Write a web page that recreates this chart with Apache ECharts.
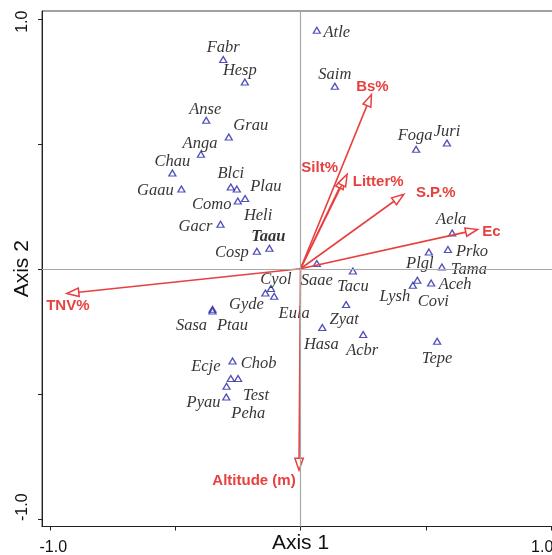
<!DOCTYPE html>
<html><head><meta charset="utf-8">
<script src="https://cdn.jsdelivr.net/npm/echarts@6/dist/echarts.min.js"></script>
<style>html,body{margin:0;padding:0;background:#fff}#c{width:552px;height:555px}</style>
</head><body><div id="c"></div>
<script>
// ---- data ----
const speciesNames = ['Fabr','Hesp','Anse','Grau','Anga','Chau','Gaau','Blci','Plau','Como','Heli','Gacr','Cosp','Taau',
  'Atle','Saim','Foga','Juri','Aela','Prko','Plgl','Tama','Saae','Tacu','Aceh','Lysh','Covi','Zyat','Hasa','Acbr','Tepe',
  'Eula','Cyol','Gyde','Sasa','Ptau','Chob','Ecje','Test','Pyau','Peha'];
const speciesAxis1 = [-0.308,-0.222,-0.376,-0.286,-0.397,-0.511,-0.475,-0.278,-0.254,-0.250,-0.221,-0.319,-0.174,-0.124,
  0.065,0.137,0.461,0.584,0.605,0.588,0.512,0.564,0.065,0.209,0.521,0.448,0.466,0.182,0.087,0.250,0.545,
  -0.105,-0.118,-0.140,-0.351,-0.351,-0.271,-0.278,-0.249,-0.295,-0.296];
const speciesAxis2 = [0.837,0.747,0.594,0.527,0.458,0.383,0.319,0.327,0.319,0.271,0.281,0.178,0.070,0.082,
  0.954,0.730,0.478,0.503,0.143,0.077,0.067,0.007,0.021,-0.009,-0.057,-0.066,-0.046,-0.143,-0.235,-0.263,-0.290,
  -0.110,-0.079,-0.097,-0.162,-0.169,-0.369,-0.439,-0.439,-0.470,-0.513];
const vectorNames = ['Bs%','Silt%','Litter%','S.P.%','Ec','TNV%','Altitude (m)'];
const vectorAxis1 = [0.283,0.176,0.186,0.412,0.706,-0.932,-0.006];
const vectorAxis2 = [0.697,0.367,0.378,0.298,0.157,-0.099,-0.806];
const tickValues = [-1,-0.5,0,0.5,1];
const tickLabelValues = [-1,1];

// ---- label placement (style only) ----
const speciesLabelOffset = {
  Fabr:[0,-12],Hesp:[-5,-11],Anse:[-1,-11],Grau:[22,-11],Anga:[-1,-11],Chau:[0,-11],Gaau:[-26,2],Blci:[0,-13],
  Plau:[29,-2],Como:[-26,4],Heli:[13,17],Gacr:[-25,2],Taau:[-1,-12],Cosp:[-25,1],Atle:[20,2],Saim:[0,-12],
  Foga:[-1,-14],Juri:[0,-11],Aela:[-1,-13],Prko:[24,2],Plgl:[-9,12],Tama:[27,3],Saae:[0,17],Tacu:[0,16],
  Aceh:[24,2],Lysh:[-18,11],Covi:[16,21],Zyat:[-2,15],Hasa:[-1,17],Acbr:[-1,16],Tepe:[0,17],Eula:[20,17],
  Cyol:[5,-9],Gyde:[-19,12],Sasa:[-21,16],Ptau:[20,15],Chob:[26,3],Ecje:[-25,-12],Test:[18,17],Pyau:[-23,16],Peha:[22,17]
};
const vectorLabelOffset = {
  'Bs%':[1,-8],'Silt%':[-25,-9],'Litter%':[31,8],'S.P.%':[32,-1],'Ec':[14,2],'TNV%':[1,12],'Altitude (m)':[-45,11]
};
const RED = '#e8403f';
const NAVY = '#2424a8';
const R = 1.031;

const chart = echarts.init(document.getElementById('c'), null, {renderer:'canvas'});

const speciesData = speciesNames.map((n,i)=>({
  name:n, value:[speciesAxis1[i], speciesAxis2[i]],
  label:{offset: speciesLabelOffset[n], fontWeight: n==='Taau' ? 'bold' : 'normal'}
}));
const vectorData = vectorNames.map((n,i)=>({name:n, value:[vectorAxis1[i], vectorAxis2[i]]}));

const tickFont = {fontFamily:'"Liberation Sans", Arial, sans-serif', fontSize:16, color:'#111'};

chart.setOption({
  animation:false,
  grid:{left:42, top:11, width:517, height:515.5, show:true, borderColor:'#444', borderWidth:1,
        backgroundColor:'transparent', containLabel:false, outerBoundsMode:'none'},
  xAxis:{
    type:'value', min:-R, max:R,
    name:'Axis 1', nameLocation:'middle', nameGap:6, nameMoveOverlap:false,
    nameTextStyle:{fontFamily:'"Liberation Sans", Arial, sans-serif', fontSize:21, color:'#111', verticalAlign:'top'},
    axisLine:{show:true, onZero:false, lineStyle:{color:'#222', width:1}},
    axisTick:{show:true, customValues:tickValues, length:4, lineStyle:{color:'#222'}},
    axisLabel:{show:true, customValues:tickLabelValues, margin:13,
      formatter:v=> v<0 ? '{l|-1.0}' : '{r|1.0}',
      rich:{l:Object.assign({padding:[0,0,0,7]},tickFont), r:Object.assign({padding:[0,18,0,0]},tickFont)}},
    splitLine:{show:false}
  },
  yAxis:{
    type:'value', min:-R, max:R,
    name:'Axis 2', nameLocation:'middle', nameGap:9, nameRotate:90, nameMoveOverlap:false,
    nameTextStyle:{fontFamily:'"Liberation Sans", Arial, sans-serif', fontSize:21, color:'#111'},
    axisLine:{show:true, onZero:false, lineStyle:{color:'#222', width:1}},
    axisTick:{show:true, customValues:tickValues, length:4, lineStyle:{color:'#222'}},
    axisLabel:{show:true, customValues:tickLabelValues, rotate:90, margin:11,
      formatter:v=> v<0 ? '{b|-1.0}' : '{t|1.0}',
      rich:{b:Object.assign({padding:[0,0,0,23]},tickFont), t:Object.assign({padding:[0,6,0,0]},tickFont)}},
    splitLine:{show:false}
  },
  series:[
    {
      type:'scatter', data:[], z:1, silent:true,
      markLine:{silent:true, symbol:'none', label:{show:false}, animation:false,
        lineStyle:{color:'#a8a8a8', width:1.2, type:'solid'},
        emphasis:{disabled:true},
        data:[{xAxis:0},{yAxis:0}]}
    },
    {
      type:'scatter', z:3, silent:true,
      symbol:'triangle', symbolSize:[7,6],
      itemStyle:{color:'rgba(255,255,255,0)', borderColor:NAVY, borderWidth:1.3},
      label:{show:true, position:'inside', formatter:'{b}', color:'#000',
        fontFamily:'"Liberation Serif", "Times New Roman", serif', fontStyle:'italic', fontSize:16.5},
      emphasis:{disabled:true},
      data:speciesData
    },
    {
      type:'custom', z:4, silent:true,
      data:vectorData,
      renderItem:function(params, api){
        const o = api.coord([0,0]);
        const t = api.coord([api.value(0), api.value(1)]);
        const dx = t[0]-o[0], dy = t[1]-o[1];
        const L = Math.hypot(dx,dy);
        const ux = dx/L, uy = dy/L;
        const hl = 12, hw = 4.2;
        const bx = t[0]-ux*hl, by = t[1]-uy*hl;
        const px = -uy, py = ux;
        const name = vectorNames[params.dataIndex];
        const off = vectorLabelOffset[name];
        return {type:'group', children:[
          {type:'line', shape:{x1:o[0],y1:o[1],x2:bx,y2:by}, style:{stroke:RED, lineWidth:1.6}},
          {type:'polygon', shape:{points:[[t[0],t[1]],[bx+px*hw,by+py*hw],[bx-px*hw,by-py*hw]]},
            style:{fill:'#fff', stroke:RED, lineWidth:1.5}},
          {type:'text', x:t[0]+off[0], y:t[1]+off[1],
            style:{text:name, fill:RED, fontFamily:'"Liberation Sans", Arial, sans-serif', fontWeight:'bold',
              fontSize:15, align:'center', verticalAlign:'middle'}}
        ]};
      }
    }
  ]
});
</script>
</body></html>
